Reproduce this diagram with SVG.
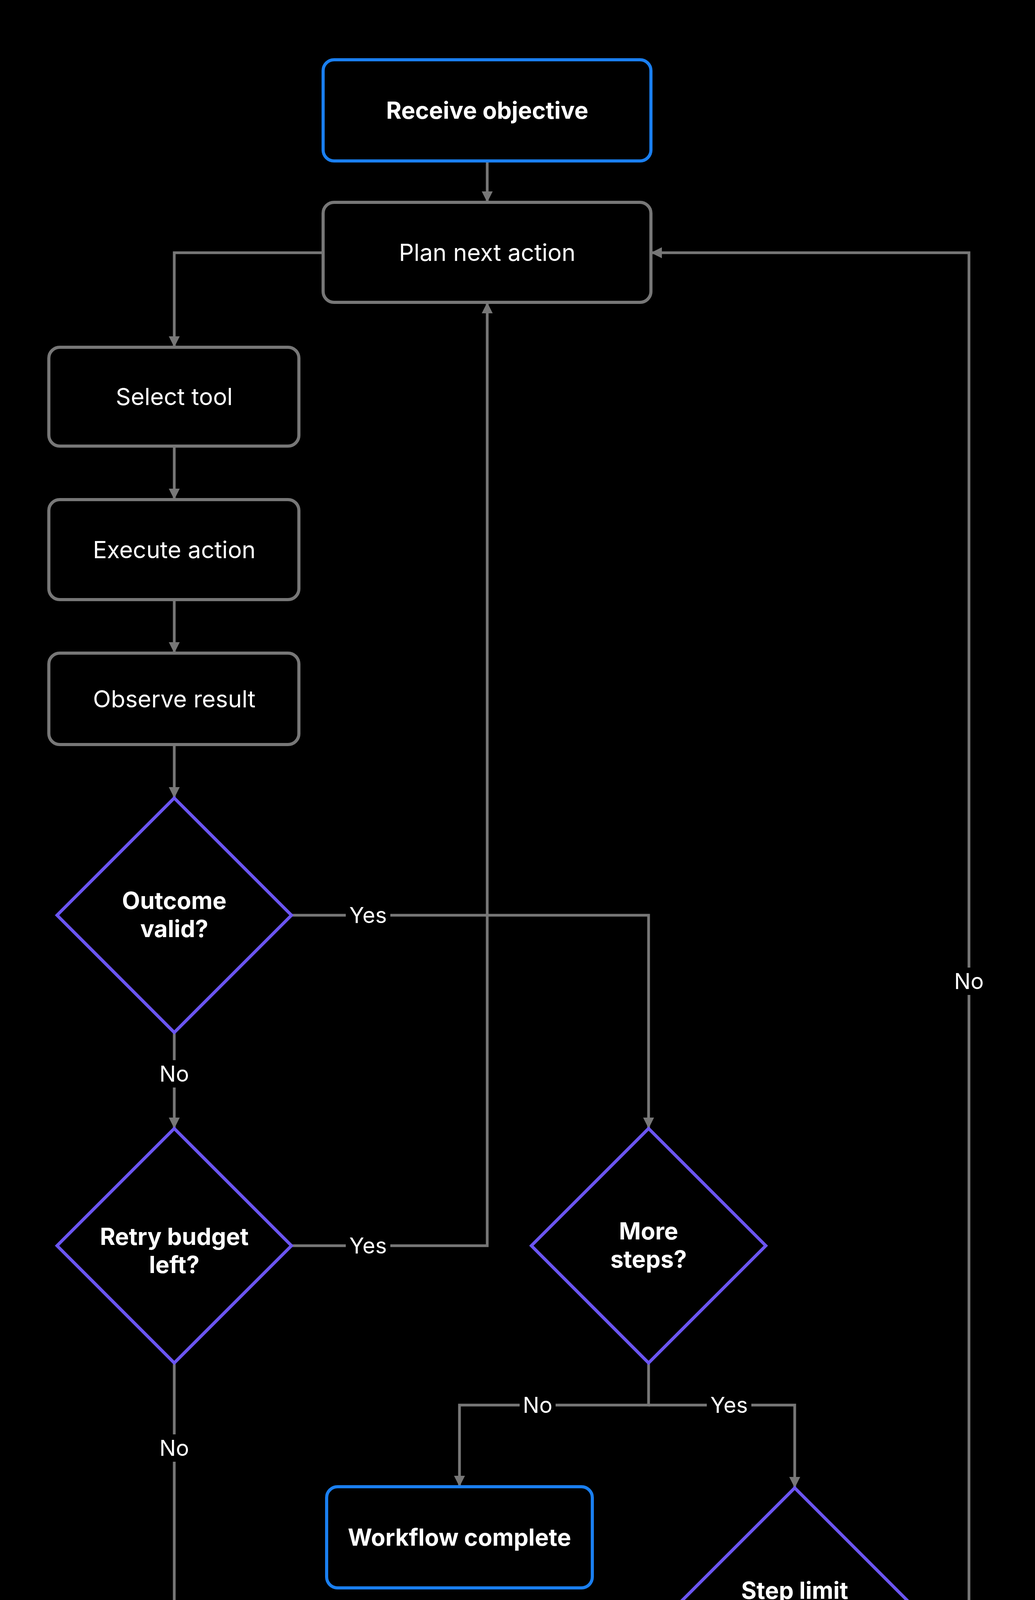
<svg xmlns="http://www.w3.org/2000/svg" width="2649" height="4891" viewBox="0 0 2649 4891">
<defs>
<marker id="ah" viewBox="0 0 10 10" refX="10" refY="5" markerWidth="4" markerHeight="4.5" orient="auto" markerUnits="strokeWidth"><path d="M0,0 L10,5 L0,10 z" fill="#777"/></marker>
<style>
.box{fill:#000;stroke:#777;stroke-width:8}
.blue{fill:#000;stroke:#1a7ff0;stroke-width:8}
.dia{fill:#000;stroke:#6b55f2;stroke-width:8}
.t{font-family:Inter,"Liberation Sans",sans-serif;font-size:60px;fill:#fff;text-anchor:middle}
.b{font-weight:700}
.c{fill:none;stroke:#777;stroke-width:7;marker-end:url(#ah)}
.lb{fill:#000}
.l{font-family:Inter,"Liberation Sans",sans-serif;font-size:56px;fill:#fff;text-anchor:middle}
</style>
</defs>
<rect width="2649" height="4891" fill="#000"/>
<g id="connectors">
<path class="c" d="M1247,412 V518"/>
<path class="c" d="M827,647 H446 V889"/>
<path class="c" d="M446,1142 V1279"/>
<path class="c" d="M446,1535 V1672"/>
<path class="c" d="M446,1906 V2043"/>
<path class="c" d="M746,2343 H1660 V2889"/>
<path class="c" d="M446,2643 V2889"/>
<path class="c" d="M746,3189 H1247 V774"/>
<path class="c" d="M1660,3489 V3597 H1176 V3806"/>
<path class="c" d="M1660,3597 H2034 V3809"/>
<path class="c" d="M446,3489 V4658 H1017"/>
<path class="c" d="M2334,4109 H2480 V647 H1666"/>
<path class="c" d="M2034,4409 V4658 H1697"/>
<g>
<rect class="lb" x="885" y="2308" width="114" height="70"/><text class="l" x="942" y="2363">Yes</text>
<rect class="lb" x="400" y="2714" width="92" height="70"/><text class="l" x="446" y="2769">No</text>
<rect class="lb" x="885" y="3154" width="114" height="70"/><text class="l" x="942" y="3209">Yes</text>
<rect class="lb" x="1330" y="3562" width="92" height="70"/><text class="l" x="1376" y="3617">No</text>
<rect class="lb" x="1809" y="3562" width="114" height="70"/><text class="l" x="1866" y="3617">Yes</text>
<rect class="lb" x="400" y="3672" width="92" height="70"/><text class="l" x="446" y="3727">No</text>
<rect class="lb" x="2434" y="2477" width="92" height="70"/><text class="l" x="2480" y="2532">No</text>
<rect class="lb" x="1977" y="4514" width="114" height="70"/><text class="l" x="2034" y="4569">Yes</text>
</g>
</g>
<g id="receive"><rect class="blue" x="827" y="153" width="839" height="259" rx="28"/><text class="t b" x="1247" y="304">Receive objective</text></g>
<g id="plan"><rect class="box" x="827" y="518" width="839" height="256" rx="28"/><text class="t" x="1247" y="668">Plan next action</text></g>
<g id="select"><rect class="box" x="125" y="889" width="640" height="253" rx="28"/><text class="t" x="446" y="1037">Select tool</text></g>
<g id="execute"><rect class="box" x="125" y="1279" width="640" height="256" rx="28"/><text class="t" x="446" y="1429">Execute action</text></g>
<g id="observe"><rect class="box" x="125" y="1672" width="640" height="234" rx="28"/><text class="t" x="446" y="1811">Observe result</text></g>
<g id="outcome"><polygon class="dia" points="446,2043 746,2343 446,2643 146,2343"/><text class="t b" x="446" y="2327">Outcome</text><text class="t b" x="446" y="2399">valid?</text></g>
<g id="retry"><polygon class="dia" points="446,2889 746,3189 446,3489 146,3189"/><text class="t b" x="446" y="3187">Retry budget</text><text class="t b" x="446" y="3259">left?</text></g>
<g id="more"><polygon class="dia" points="1660,2889 1960,3189 1660,3489 1360,3189"/><text class="t b" x="1660" y="3173">More</text><text class="t b" x="1660" y="3245">steps?</text></g>
<g id="complete"><rect class="blue" x="836" y="3806" width="680" height="259" rx="28"/><text class="t b" x="1176" y="3957">Workflow complete</text></g>
<g id="steplimit"><polygon class="dia" points="2034,3809 2334,4109 2034,4409 1734,4109"/><text class="t b" x="2034" y="4093">Step limit</text><text class="t b" x="2034" y="4165">reached?</text></g>
<g id="escalate"><rect class="blue" x="1017" y="4527" width="680" height="256" rx="28"/><text class="t b" x="1357" y="4677">Escalate to human</text></g>
</svg>
